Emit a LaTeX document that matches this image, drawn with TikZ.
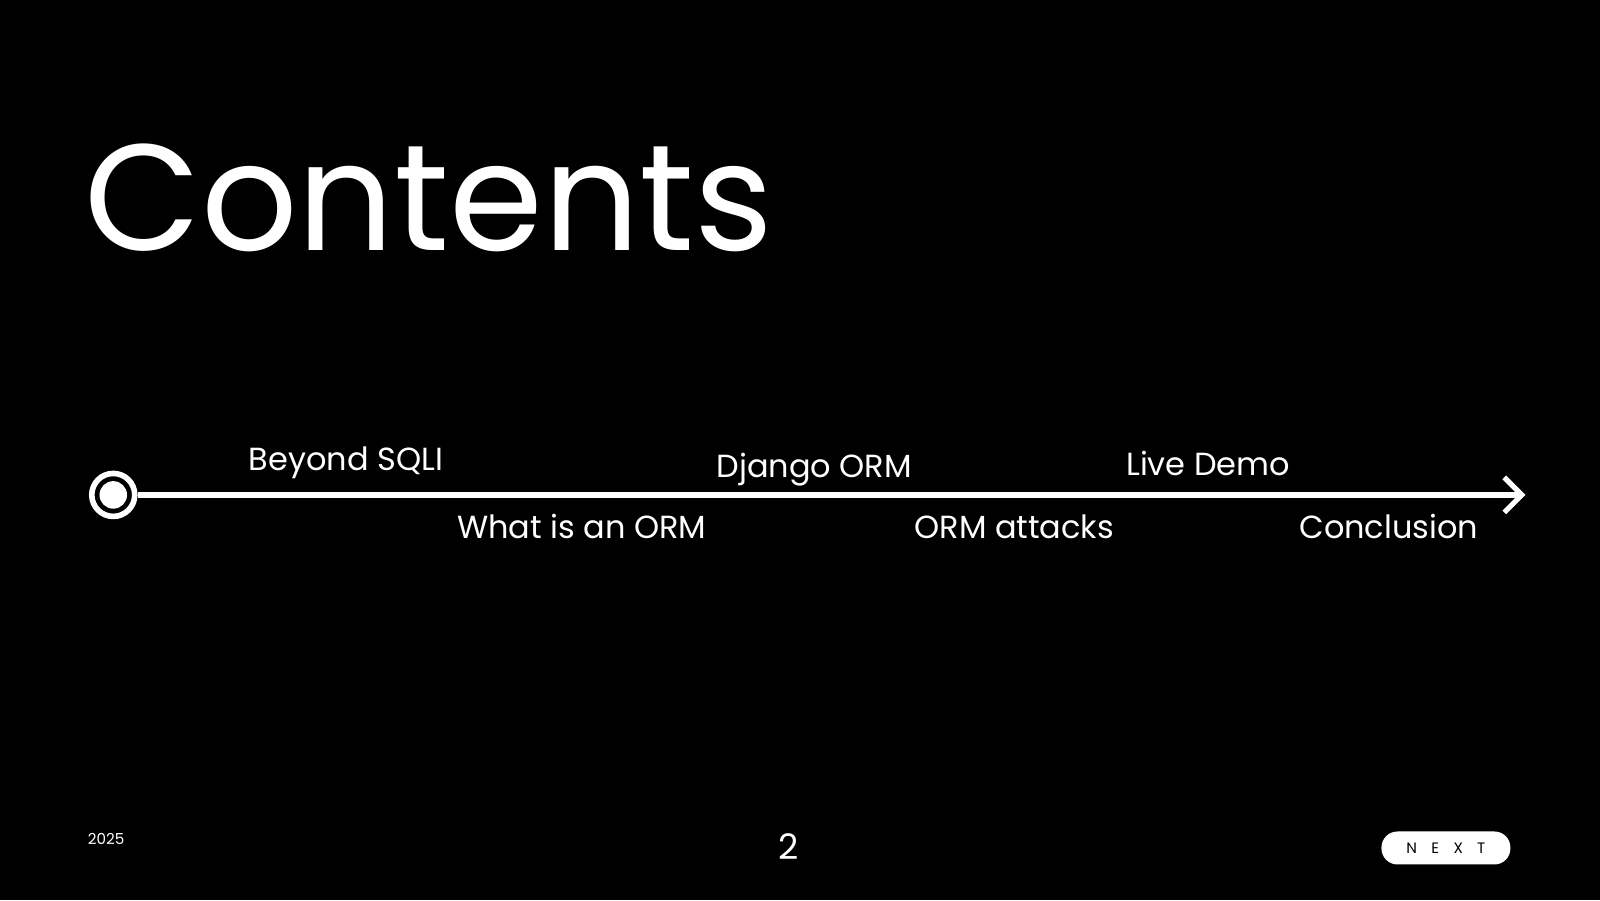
\documentclass[tikz,border=0pt]{standalone}
\usepackage{fontspec}
\setmainfont{Poppins}
\usetikzlibrary{arrows.meta}
\begin{document}
\begin{tikzpicture}[x=0.010204cm,y=-0.010204cm,
  lbl/.style={text=white,font=\fontsize{9.1}{11}\selectfont,inner sep=0pt}]
\fill[black] (0,0) rectangle (1568,882);
\useasboundingbox (0,0) rectangle (1568,882);
\node[anchor=base west,text=white,inner sep=0pt,font=\fontsize{43}{48}\selectfont] (title) at (82,245) {Contents};
\node[circle,draw=white,line width=1.6pt,fill=black,inner sep=0pt,minimum size=0.43cm] (start) at (111,485) {};
\fill[white] (start.center) circle (13.5);
\coordinate (end) at (1495,485);
\draw[white,line width=1.5pt,-{Straight Barb[length=5pt,width=10pt,line width=1.5pt]}] (start.east) -- (end);
\node[lbl] (b) at (339,454) {Beyond SQLI};
\node[lbl] (w) at (570,516) {What is an ORM};
\node[lbl] (d) at (798,460) {Django ORM};
\node[lbl] (o) at (994,516) {ORM attacks};
\node[lbl] (l) at (1184,454) {Live Demo};
\node[lbl] (c) at (1361,516) {Conclusion};
\node[text=white,font=\fontsize{4.3}{5}\selectfont,inner sep=0pt] (yr) at (104,822) {2025};
\node[text=white,font=\fontsize{10}{12}\selectfont,inner sep=0pt] (pg) at (773,830) {2};
\node[fill=white,rounded corners=0.16cm,minimum width=1.29cm,minimum height=0.33cm,inner sep=0pt,font=\fontsize{4.3}{5}\selectfont] (next) at (1417,831) {N\hspace{0.95em}E\hspace{0.95em}X\hspace{0.95em}T};
\end{tikzpicture}
\end{document}
